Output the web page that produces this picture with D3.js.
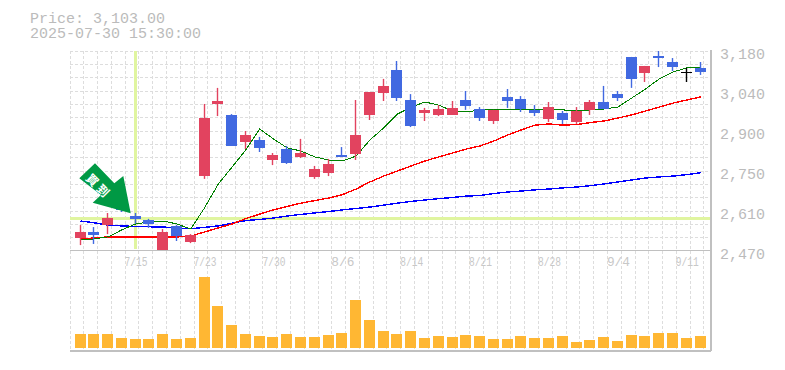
<!DOCTYPE html>
<html>
<head>
<meta charset="utf-8">
<script src="https://d3js.org/d3.v7.min.js"></script>
<style>
    html, body { margin: 0; padding: 0; background: #fff; }
    svg { display: block; }
    text { font-family: "Liberation Mono", monospace; fill: #bbb; }
</style>
</head>
<body>
<div id="chart"></div>
<script>
var titleLines = ["Price: 3,103.00", "2025-07-30 15:30:00"];

var dates = ["7/9", "7/10", "7/11", "7/14", "7/15", "7/16", "7/17", "7/18", "7/22", "7/23",
    "7/24", "7/25", "7/28", "7/29", "7/30", "7/31", "8/1", "8/4", "8/5", "8/6",
    "8/7", "8/8", "8/12", "8/13", "8/14", "8/15", "8/18", "8/19", "8/20", "8/21",
    "8/22", "8/25", "8/26", "8/27", "8/28", "8/29", "9/1", "9/2", "9/3", "9/4",
    "9/5", "9/8", "9/9", "9/10", "9/11", "9/12"];

var opens = [2516, 2537.5, 2562, 2630, 2594, 2580, 2474, 2559, 2502, 2736,
    2992, 2953, 2857, 2864, 2793, 2832, 2804, 2733, 2747, 2811,
    2814, 2953, 3031, 3113, 3006, 2960, 2953, 2953, 3006, 2974,
    2931.5, 3017, 3010, 2971, 2939, 2960, 2928, 2971, 2999, 3027,
    3159, 3102, 3162, 3141, 3105, 3120];
var closes = [2537.5, 2527, 2587, 2616, 2584, 2566, 2537.5, 2523, 2527, 2942,
    3002.5, 2843, 2882, 2836, 2811, 2782, 2818, 2761, 2779, 2804,
    2882, 3034.5, 3056, 3013, 2914, 2971, 2974, 2978, 2985, 2942,
    2971, 3002.5, 2974, 2960, 2981, 2935, 2967, 2999, 2974, 3013,
    3081, 3127, 3155, 3123, 3105, 3105.5];
var highs = [2562, 2555, 2605, 2644, 2605, 2584, 2548, 2562, 2530, 2992,
    3049, 2956, 2896, 2875, 2818, 2843, 2868, 2772, 2797, 2839,
    3006, 3034.5, 3081, 3144.5, 3027, 2978, 2988, 3002.5, 3038, 2981,
    2971, 3045, 3020, 2988, 2999, 2967, 2981, 3006, 3056, 3038,
    3159, 3127, 3180, 3155, 3120, 3141];
var lows = [2491, 2495, 2530, 2608.5, 2566, 2552, 2474, 2505.5, 2498, 2726,
    2949, 2843, 2832, 2821.5, 2775, 2779, 2800, 2726, 2736, 2804,
    2793, 2935, 3002.5, 3002.5, 2910, 2931.5, 2949, 2953, 2971, 2931.5,
    2921, 2978, 2963.5, 2949, 2928, 2921, 2921, 2953, 2974, 3002.5,
    3049, 3070, 3123, 3109, 3070, 3095];

var maShort = [2509, 2513, 2520, 2545, 2566, 2573, 2576.5, 2566, 2548, 2623,
    2708, 2768, 2829, 2903, 2868, 2836, 2825, 2804, 2793, 2789.5,
    2807, 2864, 2907, 2956, 2981, 2999, 2988, 2967, 2963.5, 2971,
    2974, 2974, 2974, 2974, 2974, 2971, 2967, 2971, 2974, 2981,
    3013, 3045, 3081, 3105.5, 3120, 3123];
var maMid = [2513, 2516, 2520, 2520, 2520, 2520, 2520, 2520, 2523, 2537.5,
    2552, 2566, 2585, 2601, 2616, 2628, 2640, 2649, 2658, 2670,
    2690, 2715, 2736, 2754, 2772, 2789.5, 2804, 2818, 2832, 2843,
    2860.5, 2882, 2900, 2917, 2921, 2917, 2919, 2926, 2931.5, 2942,
    2953, 2967, 2981, 2995, 3006, 3017];
var maLong = [2576.5, 2570, 2562, 2559, 2557, 2556, 2555, 2552, 2549, 2554,
    2559, 2569, 2578, 2582, 2587, 2594, 2600, 2605, 2610, 2616,
    2621, 2626, 2633, 2640, 2646, 2651, 2656, 2660, 2665, 2667,
    2674, 2679.5, 2683, 2687, 2690, 2694, 2697, 2702, 2708, 2715,
    2722, 2729, 2733, 2736, 2741, 2748];

var volumes = [140, 140, 140, 100, 90, 90, 140, 90, 100, 710,
    420, 230, 140, 120, 110, 140, 110, 110, 130, 150,
    480, 280, 170, 140, 170, 100, 120, 110, 130, 120,
    90, 90, 120, 100, 100, 120, 60, 80, 110, 70,
    130, 120, 150, 150, 100, 120];

var priceTicks = [3180, 3038, 2896, 2754, 2612, 2470];
var dateTicks = [4, 9, 14, 19, 24, 29, 34, 39, 44];
var crossIndex = 4;
var crossPrice = 2585;
var arrowLabel = ["買", "到"];

function drawChart() {
    const width = 785;
    const height = 370;
    const left = 70;
    const right = 710;
    const barWidth = 11;
    const upColor = "#e2435f";
    const downColor = "#4169e1";
    const gridColor = "#ddd";
    const axisColor = "#c0c0c0";

    var svg = d3.select("#chart")
        .append("svg")
        .attr("width", width)
        .attr("height", height);

    var xscale = d3.scaleLinear().domain([0, 45]).range([80.5, 700.6]);
    var yscale = d3.scaleLinear().domain([2470, 3180]).range([251, 51]);
    var vscale = d3.scaleLinear().domain([0, 710]).range([348, 277]);

    // grid
    var grid = svg.append("g")
        .attr("stroke", gridColor)
        .attr("stroke-dasharray", "3,2")
        .attr("shape-rendering", "crispEdges");

    grid.selectAll("line.v")
        .data(d3.range(-1, 46))
        .enter()
        .append("line")
        .attr("x1", function (d) { return Math.floor(xscale(d) + 3.3) + 0.5; })
        .attr("x2", function (d) { return Math.floor(xscale(d) + 3.3) + 0.5; })
        .attr("y1", 51)
        .attr("y2", 350);

    grid.selectAll("line.h")
        .data(d3.range(0, 15))
        .enter()
        .append("line")
        .attr("x1", left)
        .attr("x2", right)
        .attr("y1", function (d) { return Math.floor(51 + d * 40 / 3) + 0.5; })
        .attr("y2", function (d) { return Math.floor(51 + d * 40 / 3) + 0.5; });

    // crosshair
    svg.append("rect")
        .attr("x", Math.floor(xscale(crossIndex)) - 1)
        .attr("y", 51)
        .attr("width", 3)
        .attr("height", 198)
        .attr("fill", "#e0f5a0");
    svg.append("rect")
        .attr("x", left)
        .attr("y", Math.floor(yscale(crossPrice)) - 1)
        .attr("width", right - left)
        .attr("height", 3)
        .attr("fill", "#e0f5a0");

    // frame
    var frame = svg.append("g")
        .attr("stroke", axisColor)
        .attr("shape-rendering", "crispEdges");
    frame.append("line").attr("x1", left).attr("x2", right).attr("y1", 250.5).attr("y2", 250.5);
    frame.append("line").attr("x1", left).attr("x2", right + 1).attr("y1", 350.5).attr("y2", 350.5).attr("stroke-width", 2);
    frame.append("line").attr("x1", 710.5).attr("x2", 710.5).attr("y1", 50).attr("y2", 351).attr("stroke-width", 2);

    // moving averages
    var line = d3.line()
        .x(function (d, i) { return xscale(i); })
        .y(function (d) { return yscale(d); });

    svg.append("path").datum(maLong)
        .attr("d", line).attr("fill", "none")
        .attr("stroke", "#0000ff").attr("stroke-width", 1.4)
        .attr("shape-rendering", "crispEdges");
    svg.append("path").datum(maMid)
        .attr("d", line).attr("fill", "none")
        .attr("stroke", "#ff0000").attr("stroke-width", 1.4)
        .attr("shape-rendering", "crispEdges");
    svg.append("path").datum(maShort)
        .attr("d", line).attr("fill", "none")
        .attr("stroke", "#008000").attr("stroke-width", 1)
        .attr("shape-rendering", "crispEdges");

    // candles
    function candleColor(i) {
        if (closes[i] > opens[i]) {
            return upColor;
        }
        else if (closes[i] < opens[i]) {
            return downColor;
        }
        return "#000";
    }

    var candles = svg.append("g");

    candles.selectAll("line")
        .data(d3.range(opens.length))
        .enter()
        .append("line")
        .attr("x1", function (i) { return Math.floor(xscale(i) - 5.5) + 5.5; })
        .attr("x2", function (i) { return Math.floor(xscale(i) - 5.5) + 5.5; })
        .attr("y1", function (i) { return yscale(highs[i]); })
        .attr("y2", function (i) { return yscale(lows[i]); })
        .attr("stroke-width", 1.4)
        .attr("stroke", candleColor);

    candles.selectAll("rect")
        .data(d3.range(opens.length))
        .enter()
        .append("rect")
        .attr("shape-rendering", "crispEdges")
        .attr("x", function (i) { return Math.floor(xscale(i) - 5.5); })
        .attr("y", function (i) { return yscale(Math.max(opens[i], closes[i])); })
        .attr("width", barWidth)
        .attr("height", function (i) {
            return Math.max(1, Math.abs(yscale(opens[i]) - yscale(closes[i])));
        })
        .attr("fill", candleColor);

    // volume
    svg.append("g").selectAll("rect")
        .data(volumes)
        .enter()
        .append("rect")
        .attr("x", function (d, i) { return Math.floor(xscale(i) - 5.5); })
        .attr("y", function (d) { return vscale(d); })
        .attr("width", barWidth)
        .attr("height", function (d) { return vscale(0) - vscale(d); })
        .attr("fill", "#ffb733");

    // axes
    var y_axis = d3.axisRight(yscale)
        .tickValues(priceTicks)
        .tickSize(0)
        .tickPadding(0)
        .tickFormat(function (d) { return d3.format(",")(Math.round(d / 10) * 10); });
    var yg = svg.append("g")
        .attr("transform", "translate(720, 0)")
        .call(y_axis);
    yg.select(".domain").remove();
    yg.selectAll("text")
        .attr("dy", "7px")
        .style("font-size", "15px")
        .style("font-family", "'Liberation Mono', monospace")
        .style("fill", "#bbb");

    var x_axis = d3.axisBottom(xscale)
        .tickValues(dateTicks)
        .tickSize(0)
        .tickPadding(0)
        .tickFormat(function (d) { return dates[d]; });
    var xg = svg.append("g")
        .attr("transform", "translate(0, 257)")
        .call(x_axis);
    xg.select(".domain").remove();
    xg.selectAll("text")
        .attr("dy", "9px")
        .attr("y", 0)
        .style("font-size", "12px")
        .style("font-family", "'Liberation Mono', monospace")
        .style("fill", "#c8c8c8")
        .attr("textLength", 23)
        .attr("lengthAdjust", "spacingAndGlyphs");

    // title
    svg.selectAll("text.title")
        .data(titleLines)
        .enter()
        .append("text")
        .attr("class", "title")
        .attr("x", 30)
        .attr("y", function (d, i) { return 23 + i * 15; })
        .style("font-size", "15px")
        .text(function (d) { return d; });

    // signal arrow
    svg.append("path")
        .attr("d", "M95,163.3 L114.3,183.3 L123.3,176 L130.7,213.3 L92.7,202.7 L101,195 L79.3,178.3 Z")
        .attr("fill", "#009944");
    svg.selectAll("text.signal")
        .data(arrowLabel)
        .enter()
        .append("text")
        .attr("class", "signal")
        .attr("transform", function (d, i) {
            return "translate(" + (92.5 + i * 10.5) + "," + (180 + i * 10.5) + ") rotate(45)";
        })
        .attr("text-anchor", "middle")
        .attr("dy", "0.38em")
        .style("font-family", "'Noto Sans CJK TC', sans-serif")
        .style("font-weight", "700")
        .style("font-size", "12px")
        .style("fill", "#fff")
        .text(function (d) { return d; });
}

window.addEventListener('load', function () {
    drawChart();
})
</script>
</body>
</html>
